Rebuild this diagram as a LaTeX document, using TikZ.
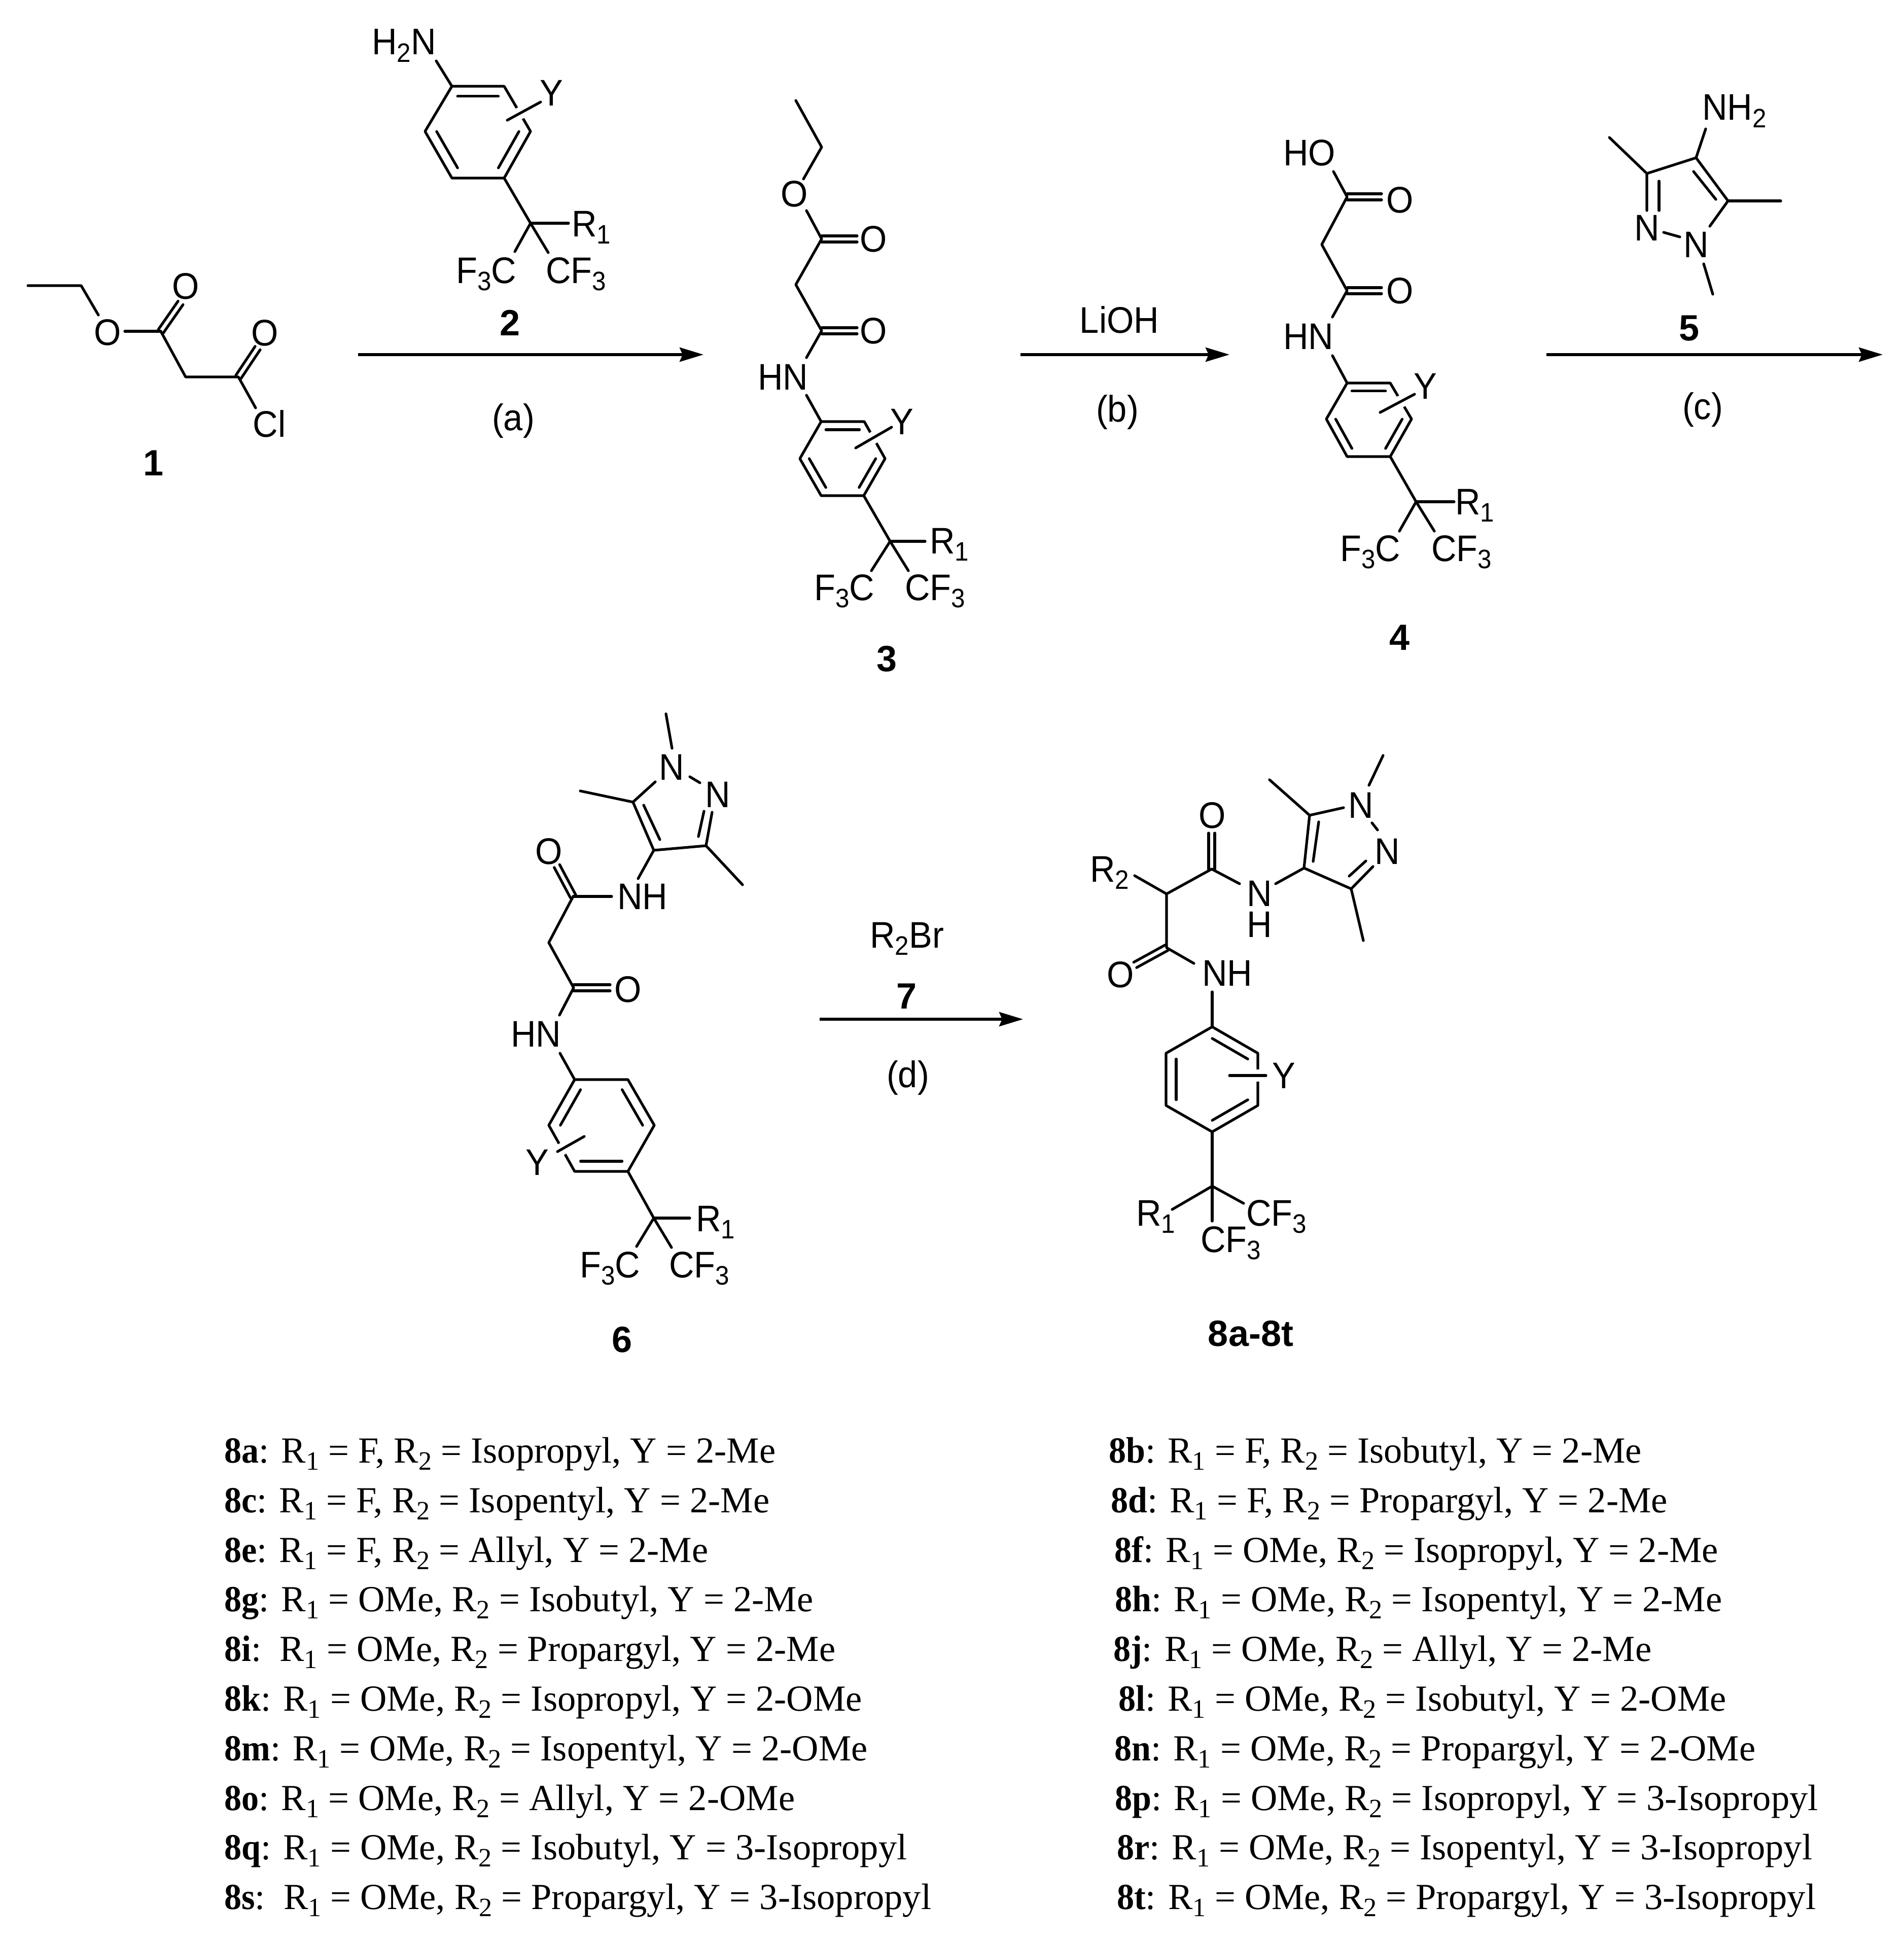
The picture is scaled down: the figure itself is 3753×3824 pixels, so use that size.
\documentclass[tikz,border=0pt]{standalone}
\usepackage{fontspec}
\setmainfont{Liberation Serif}[BoldFeatures={FakeStretch=0.94}]
\setsansfont{Liberation Sans}
\newfontfamily\chemfont{Liberation Sans}[FakeStretch=0.94]
\usetikzlibrary{arrows.meta,calc}
\newcommand{\sbt}[1]{\raisebox{-.2em}{\scalebox{.72}{#1}}}
\newcommand{\C}[3]{\coordinate (#1) at (#2,#3);}
\newcommand{\bd}[2]{\draw[bondline] (#1) -- (#2);}
\newcommand{\dbl}[3][6pt]{\draw[bondline] ($(#2)!#1!90:(#3)$) -- ($(#3)!#1!-90:(#2)$); \draw[bondline] ($(#2)!#1!-90:(#3)$) -- ($(#3)!#1!90:(#2)$);}
\newcommand{\inb}[3]{\draw[bondline] ($(#1)!.78!(#2)$) -- ($(#1)!.78!(#3)$);}
\newcommand{\yl}[2]{\draw[white,line width=24pt] (#1) -- (#2); \draw[bondline] (#1) -- (#2);}
\tikzset{
  x=1pt,y=-1pt,
  bondline/.style={line width=5.2pt,line cap=round,line join=round,black},
  atom/.style={font=\chemfont\fontsize{73}{80}\selectfont,inner sep=0pt,anchor=base west},
  catom/.style={font=\chemfont\fontsize{73}{80}\selectfont,inner sep=0pt,anchor=center},
  stackatom/.style={font=\chemfont\fontsize{73}{61}\selectfont,inner sep=0pt,anchor=center,align=center},
  cnum/.style={font=\sffamily\bfseries\fontsize{72}{80}\selectfont,inner sep=0pt,anchor=center},
  li/.style={font=\rmfamily\fontsize{72.5}{80}\selectfont,inner sep=0pt,anchor=base west},
  rxn/.style={line width=5.2pt,-{Stealth[length=47pt,width=28pt,inset=6pt]}},
}
\begin{document}
\begin{tikzpicture}
\useasboundingbox (0,0) rectangle (3753,3824);
\fill[white] (0,0) rectangle (3753,3824);
% ---- compound 1
\C{a1}{55}{563}\C{a2}{160}{563}\C{a3}{194}{621}\C{a4}{246}{653}\C{a5}{317}{653}\C{a6}{356}{597}
\C{a7}{366}{743}\C{a8}{470}{743}\C{a9}{508}{686}\C{a10}{504}{804}
\draw[bondline] (a1)--(a2)--(a3); \bd{a4}{a5}\dbl{a5}{a6}\draw[bondline] (a5)--(a7)--(a8)--(a10); \dbl{a8}{a9}
\node[catom] (o1a) at (212,655) {O};
\node[catom] (o1b) at (366,564) {O};
\node[catom] (o1c) at (522,656) {O};
\node[catom] (cl1) at (531,835) {Cl};
\node[cnum] (n1) at (303,913) {1};
% ---- compound 2
\C{b1}{891}{170}\C{b2}{994}{170}\C{b3}{1046}{259}\C{b4}{994}{351}\C{b5}{891}{351}\C{b6}{838}{259}\C{bc}{942}{260}
\C{bn}{860}{120}\C{bq}{1046}{440}\C{br}{1121}{440}\C{bf}{1015}{496}\C{bg}{1081}{498}\C{by1}{1000}{237}\C{by2}{1066}{201}
\draw[bondline] (b1)--(b2)--(b3)--(b4)--(b5)--(b6)--cycle;
\inb{bc}{b1}{b2}\inb{bc}{b3}{b4}\inb{bc}{b5}{b6}
\yl{by1}{by2}
\bd{bn}{b1}\bd{b4}{bq}\bd{bq}{br}\bd{bq}{bf}\bd{bq}{bg}
\node[atom] (t2a) at (733,108) {H\sbt{2}N};
\node[catom] (t2y) at (1087,183) {Y};
\node[atom] (t2r) at (1127,466) {R\sbt{1}};
\node[atom] (t2f) at (899,558) {F\sbt{3}C};
\node[atom] (t2c) at (1076,558) {CF\sbt{3}};
\node[cnum] (n2) at (1006,636) {2};
% ---- arrow a
\C{ra1}{706}{699}\C{ra2}{1387}{699}\draw[rxn] (ra1)--(ra2);
\node[catom] (la) at (1012,830) {(a)};
% ---- compound 3
\C{c1}{1569}{198}\C{c2}{1620}{290}\C{c3}{1584}{353}\C{c4}{1590}{415}\C{c5}{1620}{471}\C{c6}{1690}{471}
\C{c7}{1569}{561}\C{c8}{1620}{652}\C{c9}{1690}{652}\C{c10}{1590}{705}\C{c11}{1590}{779}
\C{d1}{1619}{831}\C{d2}{1704}{831}\C{d3}{1745}{904}\C{d4}{1703}{977}\C{d5}{1619}{977}\C{d6}{1577}{904}\C{dc}{1661}{904}
\C{cy1}{1687}{883}\C{cy2}{1758}{842}\C{cq}{1755}{1067}\C{cr}{1824}{1067}\C{cf}{1718}{1125}\C{cg}{1791}{1125}
\draw[bondline] (c1)--(c2)--(c3); \draw[bondline] (c4)--(c5)--(c7)--(c8)--(c10); \dbl{c5}{c6}\dbl{c8}{c9}\bd{c11}{d1}
\draw[bondline] (d1)--(d2)--(d3)--(d4)--(d5)--(d6)--cycle;
\inb{dc}{d1}{d2}\inb{dc}{d3}{d4}\inb{dc}{d5}{d6}
\yl{cy1}{cy2}
\bd{d4}{cq}\bd{cq}{cr}\bd{cq}{cf}\bd{cq}{cg}
\node[catom] (o3a) at (1566,382) {O};
\node[catom] (o3b) at (1722,471) {O};
\node[catom] (o3c) at (1722,652) {O};
\node[atom] (t3h) at (1494,768) {HN};
\node[catom] (t3y) at (1778,831) {Y};
\node[atom] (t3r) at (1833,1091) {R\sbt{1}};
\node[atom] (t3f) at (1605,1183) {F\sbt{3}C};
\node[atom] (t3c) at (1784,1183) {CF\sbt{3}};
\node[cnum] (n3) at (1748,1299) {3};
% ---- arrow b
\C{rb1}{2012}{699}\C{rb2}{2424}{699}\draw[rxn] (rb1)--(rb2);
\node[catom] (lb0) at (2207,630) {LiOH};
\node[catom] (lb) at (2203,813) {(b)};
% ---- compound 4
\C{e1}{2629}{338}\C{e2}{2656}{388}\C{e3}{2724}{388}\C{e4}{2606}{482}\C{e5}{2656}{573}\C{e6}{2724}{573}\C{e7}{2627}{625}\C{e8}{2627}{701}
\C{f1}{2656}{755}\C{f2}{2741}{755}\C{f3}{2783}{826}\C{f4}{2741}{900}\C{f5}{2656}{900}\C{f6}{2615}{826}\C{fc}{2699}{827}
\C{ey1}{2721}{813}\C{ey2}{2789}{777}\C{eq}{2792}{989}\C{er}{2867}{989}\C{ef}{2759}{1047}\C{eg}{2828}{1047}
\draw[bondline] (e1)--(e2)--(e4)--(e5)--(e7); \dbl{e2}{e3}\dbl{e5}{e6}\bd{e8}{f1}
\draw[bondline] (f1)--(f2)--(f3)--(f4)--(f5)--(f6)--cycle;
\inb{fc}{f1}{f2}\inb{fc}{f3}{f4}\inb{fc}{f5}{f6}
\yl{ey1}{ey2}
\bd{f4}{eq}\bd{eq}{er}\bd{eq}{ef}\bd{eq}{eg}
\node[atom] (t4h) at (2530,326) {HO};
\node[catom] (o4a) at (2760,394) {O};
\node[catom] (o4b) at (2760,573) {O};
\node[atom] (t4n) at (2530,688) {HN};
\node[catom] (t4y) at (2810,761) {Y};
\node[atom] (t4r) at (2869,1014) {R\sbt{1}};
\node[atom] (t4f) at (2642,1106) {F\sbt{3}C};
\node[atom] (t4c) at (2822,1106) {CF\sbt{3}};
\node[cnum] (n4) at (2759,1257) {4};
% ---- compound 5
\C{g1}{3363}{254}\C{g2}{3344}{311}\C{g3}{3407}{396}\C{g4}{3511}{396}\C{g5}{3371}{446}\C{g6}{3312}{467}\C{g7}{3280}{458}
\C{g8}{3247}{415}\C{g9}{3247}{342}\C{g10}{3173}{271}\C{g11}{3359}{520}\C{g12}{3377}{580}
\C{g13}{3339}{338}\C{g14}{3383}{393}\C{g15}{3271}{415}\C{g16}{3271}{357}
\bd{g1}{g2}\draw[bondline] (g5)--(g3)--(g2)--(g9)--(g8); \bd{g3}{g4}\bd{g6}{g7}\bd{g9}{g10}\bd{g11}{g12}\bd{g13}{g14}\bd{g15}{g16}
\node[atom] (t5a) at (3356,237) {NH\sbt{2}};
\node[catom] (t5b) at (3344,482) {N};
\node[catom] (t5c) at (3247,449) {N};
\node[cnum] (n5) at (3330,647) {5};
% ---- arrow c
\C{rc1}{3049}{699}\C{rc2}{3712}{699}\draw[rxn] (rc1)--(rc2);
\node[catom] (lc) at (3357,808) {(c)};
% ---- compound 6
\C{h1}{1313}{1407}\C{h2}{1325}{1475}\C{h3}{1360}{1531}\C{h4}{1380}{1543}\C{h5}{1404}{1601}\C{h6}{1392}{1667}
\C{h7}{1388}{1599}\C{h8}{1377}{1649}\C{h9}{1289}{1676}\C{h10}{1248}{1581}\C{h11}{1301}{1655}\C{h12}{1269}{1587}
\C{h13}{1292}{1541}\C{h14}{1144}{1559}\C{h15}{1464}{1744}\C{h16}{1258}{1732}\C{h17}{1206}{1767}\C{h18}{1130}{1767}
\C{h19}{1098}{1707}\C{h20}{1082}{1858}\C{h21}{1131}{1947}\C{h22}{1203}{1947}\C{h23}{1103}{2001}\C{h24}{1104}{2076}
\C{i1}{1133}{2128}\C{i2}{1238}{2128}\C{i3}{1290}{2218}\C{i4}{1238}{2309}\C{i5}{1133}{2309}\C{i6}{1082}{2218}\C{ic}{1186}{2218}
\C{hy1}{1099}{2270}\C{hy2}{1152}{2240}\C{hq}{1289}{2401}\C{hr}{1360}{2401}\C{hf}{1255}{2457}\C{hg}{1324}{2459}
\bd{h1}{h2}\bd{h3}{h4}\draw[bondline] (h5)--(h6)--(h9)--(h10)--(h13); \bd{h7}{h8}\bd{h11}{h12}\bd{h10}{h14}\bd{h6}{h15}\bd{h9}{h16}
\bd{h17}{h18}\dbl{h18}{h19}\draw[bondline] (h18)--(h20)--(h21)--(h23); \dbl{h21}{h22}\bd{h24}{i1}
\draw[bondline] (i1)--(i2)--(i3)--(i4)--(i5)--(i6)--cycle;
\inb{ic}{i1}{i6}\inb{ic}{i2}{i3}\inb{ic}{i4}{i5}
\yl{hy1}{hy2}
\bd{i4}{hq}\bd{hq}{hr}\bd{hq}{hf}\bd{hq}{hg}
\node[catom] (t6a) at (1324,1512) {N};
\node[catom] (t6b) at (1415,1566) {N};
\node[atom] (t6c) at (1217,1792) {NH};
\node[catom] (o6a) at (1082,1678) {O};
\node[catom] (o6b) at (1238,1950) {O};
\node[atom] (t6d) at (1007,2063) {HN};
\node[catom] (t6y) at (1059,2291) {Y};
\node[atom] (t6r) at (1372,2427) {R\sbt{1}};
\node[atom] (t6f) at (1143,2518) {F\sbt{3}C};
\node[atom] (t6g) at (1319,2518) {CF\sbt{3}};
\node[cnum] (n6) at (1227,2641) {6};
% ---- arrow d
\C{rd1}{1616}{2009}\C{rd2}{2017}{2009}\draw[rxn] (rd1)--(rd2);
\node[atom] (ld0) at (1715,1868) {R\sbt{2}Br};
\node[cnum] (n7) at (1787,1964) {7};
\node[catom] (ld) at (1790,2125) {(d)};
% ---- compound 8
\C{j1}{2727}{1489}\C{j2}{2699}{1548}\C{j3}{2705}{1622}\C{j4}{2716}{1636}\C{j5}{2707}{1708}\C{j6}{2664}{1752}
\C{j7}{2693}{1697}\C{j8}{2660}{1727}\C{j9}{2571}{1711}\C{j10}{2582}{1607}\C{j11}{2589}{1698}\C{j12}{2600}{1620}
\C{j13}{2649}{1592}\C{j14}{2503}{1537}\C{j15}{2688}{1854}\C{j16}{2515}{1742}\C{j17}{2444}{1742}\C{j18}{2389}{1713}
\C{j19}{2389}{1642}\C{j20}{2300}{1762}\C{j21}{2237}{1726}\C{j22}{2300}{1868}\C{j23}{2238}{1902}\C{j24}{2354}{1899}\C{j25}{2390}{1955}
\C{k1}{2390}{2024}\C{k2}{2480}{2076}\C{k3}{2480}{2179}\C{k4}{2390}{2231}\C{k5}{2299}{2179}\C{k6}{2299}{2076}\C{kc}{2390}{2128}
\C{jy1}{2424}{2120}\C{jy2}{2496}{2120}\C{jq}{2390}{2338}\C{jr}{2311}{2384}\C{jf}{2452}{2372}\C{jg}{2390}{2407}
\bd{j1}{j2}\bd{j3}{j4}\draw[bondline] (j5)--(j6)--(j9)--(j10)--(j13); \bd{j7}{j8}\bd{j11}{j12}\bd{j10}{j14}\bd{j6}{j15}\bd{j9}{j16}
\bd{j17}{j18}\dbl{j18}{j19}\draw[bondline] (j18)--(j20)--(j22)--(j24); \bd{j20}{j21}\dbl{j22}{j23}\bd{j25}{k1}
\draw[bondline] (k1)--(k2)--(k3)--(k4)--(k5)--(k6)--cycle;
\inb{kc}{k1}{k2}\inb{kc}{k3}{k4}\inb{kc}{k5}{k6}
\yl{jy1}{jy2}
\bd{k4}{jq}\bd{jq}{jr}\bd{jq}{jf}\bd{jq}{jg}
\node[catom] (t8a) at (2683,1587) {N};
\node[catom] (t8b) at (2735,1678) {N};
\node[catom] (o8a) at (2390,1607) {O};
\node[stackatom] (t8c) at (2483,1792) {N\\H};
\node[atom] (t8e) at (2149,1738) {R\sbt{2}};
\node[catom] (o8b) at (2209,1921) {O};
\node[atom] (t8f) at (2370,1943) {NH};
\node[catom] (t8y) at (2531,2120) {Y};
\node[atom] (t8r) at (2240,2416) {R\sbt{1}};
\node[atom] (t8g) at (2457,2416) {CF\sbt{3}};
\node[atom] (t8h) at (2367,2468) {CF\sbt{3}};
\node[cnum] (n8) at (2466,2629) {8a-8t};
% ---- list, left column
\node[li] (la1) at (442,2883) {\textbf{8a}: R\sbt{1} = F, R\sbt{2} = Isopropyl, Y = 2-Me};
\node[li] (la2) at (442,2981) {\textbf{8c}: R\sbt{1} = F, R\sbt{2} = Isopentyl, Y = 2-Me};
\node[li] (la3) at (442,3079) {\textbf{8e}: R\sbt{1} = F, R\sbt{2} = Allyl, Y = 2-Me};
\node[li] (la4) at (442,3176) {\textbf{8g}: R\sbt{1} = OMe, R\sbt{2} = Isobutyl, Y = 2-Me};
\node[li] (la5) at (442,3274) {\textbf{8i}:\ \ R\sbt{1} = OMe, R\sbt{2} = Propargyl, Y = 2-Me};
\node[li] (la6) at (442,3372) {\textbf{8k}: R\sbt{1} = OMe, R\sbt{2} = Isopropyl, Y = 2-OMe};
\node[li] (la7) at (442,3470) {\textbf{8m}: R\sbt{1} = OMe, R\sbt{2} = Isopentyl, Y = 2-OMe};
\node[li] (la8) at (442,3568) {\textbf{8o}: R\sbt{1} = OMe, R\sbt{2} = Allyl, Y = 2-OMe};
\node[li] (la9) at (442,3665) {\textbf{8q}: R\sbt{1} = OMe, R\sbt{2} = Isobutyl, Y = 3-Isopropyl};
\node[li] (la10) at (442,3763) {\textbf{8s}:\ \ R\sbt{1} = OMe, R\sbt{2} = Propargyl, Y = 3-Isopropyl};
% ---- list, right column
\node[li] (lb1) at (2186,2883) {\textbf{8b}: R\sbt{1} = F, R\sbt{2} = Isobutyl, Y = 2-Me};
\node[li] (lb2) at (2190,2981) {\textbf{8d}: R\sbt{1} = F, R\sbt{2} = Propargyl, Y = 2-Me};
\node[li] (lb3) at (2197,3079) {\textbf{8f}: R\sbt{1} = OMe, R\sbt{2} = Isopropyl, Y = 2-Me};
\node[li] (lb4) at (2198,3176) {\textbf{8h}: R\sbt{1} = OMe, R\sbt{2} = Isopentyl, Y = 2-Me};
\node[li] (lb5) at (2195,3274) {\textbf{8j}: R\sbt{1} = OMe, R\sbt{2} = Allyl, Y = 2-Me};
\node[li] (lb6) at (2205,3372) {\textbf{8l}: R\sbt{1} = OMe, R\sbt{2} = Isobutyl, Y = 2-OMe};
\node[li] (lb7) at (2197,3470) {\textbf{8n}: R\sbt{1} = OMe, R\sbt{2} = Propargyl, Y = 2-OMe};
\node[li] (lb8) at (2198,3568) {\textbf{8p}: R\sbt{1} = OMe, R\sbt{2} = Isopropyl, Y = 3-Isopropyl};
\node[li] (lb9) at (2202,3665) {\textbf{8r}: R\sbt{1} = OMe, R\sbt{2} = Isopentyl, Y = 3-Isopropyl};
\node[li] (lb10) at (2202,3763) {\textbf{8t}: R\sbt{1} = OMe, R\sbt{2} = Propargyl, Y = 3-Isopropyl};
\end{tikzpicture}
\end{document}
